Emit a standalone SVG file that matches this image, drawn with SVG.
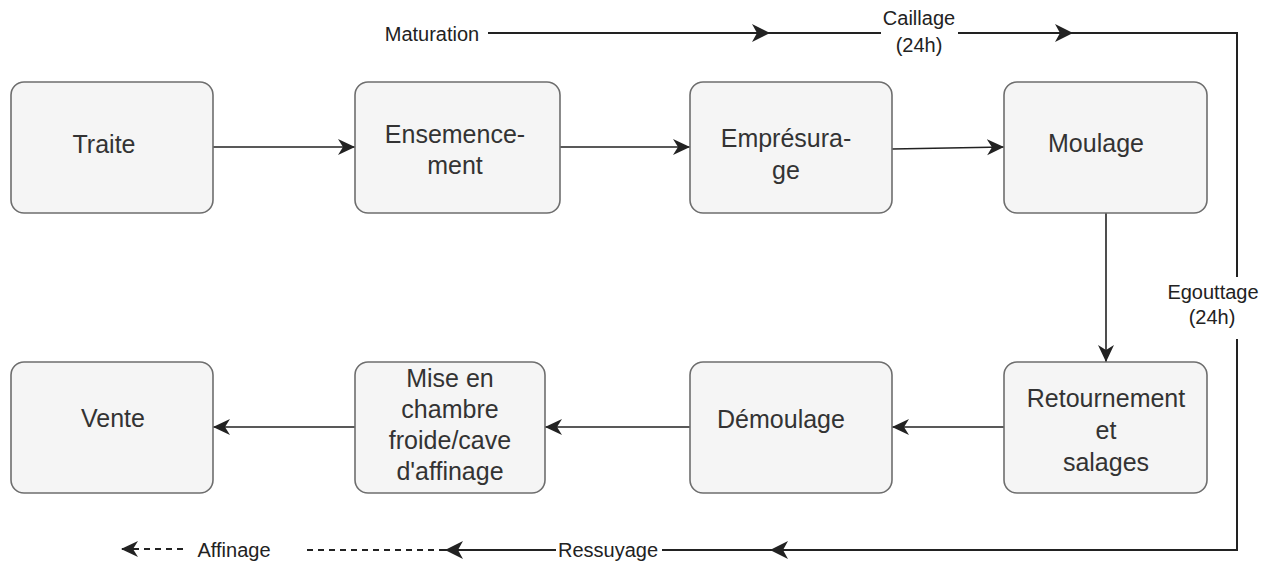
<svg xmlns="http://www.w3.org/2000/svg" width="1279" height="562" viewBox="0 0 1279 562">
<style>
.box{fill:#f5f5f5;stroke:#6e6e6e;stroke-width:1.6}
.lbl{font-family:"Liberation Sans",Arial,sans-serif;font-size:25px;fill:#333;text-anchor:middle}
.tl{font-family:"Liberation Sans",Arial,sans-serif;font-size:20px;fill:#222;text-anchor:middle}
.c{fill:none;stroke:#222;stroke-width:1.6}
.t{fill:none;stroke:#222;stroke-width:2}
.d{fill:none;stroke:#222;stroke-width:1.8;stroke-dasharray:6 5}
</style>
<defs>
<marker id="ah" markerUnits="userSpaceOnUse" markerWidth="18" markerHeight="18" refX="17" refY="8" orient="auto">
<path d="M0,0 L17,8 L0,16 L5,8 Z" fill="#222"/>
</marker>
<marker id="ahb" markerUnits="userSpaceOnUse" markerWidth="20" markerHeight="20" refX="18" refY="9" orient="auto">
<path d="M0,0 L18,9 L0,18 L5,9 Z" fill="#222"/>
</marker>
</defs>
<g id="connectors">
<line class="c" x1="213" y1="147" x2="355" y2="147" marker-end="url(#ah)"/>
<line class="c" x1="560" y1="147" x2="690" y2="147" marker-end="url(#ah)"/>
<line class="c" x1="892" y1="149" x2="1004" y2="147" marker-end="url(#ah)"/>
<line class="c" x1="1106" y1="213" x2="1106" y2="362" marker-end="url(#ah)"/>
<line class="c" x1="1004" y1="427" x2="892" y2="427" marker-end="url(#ah)"/>
<line class="c" x1="690" y1="427" x2="545" y2="427" marker-end="url(#ah)"/>
<line class="c" x1="355" y1="427" x2="213" y2="427" marker-end="url(#ah)"/>
<line class="t" x1="488" y1="33" x2="770" y2="33" marker-end="url(#ahb)"/>
<line class="t" x1="768" y1="33" x2="881" y2="33"/>
<line class="t" x1="958" y1="33" x2="1073" y2="33" marker-end="url(#ahb)"/>
<polyline class="t" points="1071,33 1237,33 1237,277"/>
<polyline class="t" points="1237,339 1237,550 770,550"/>
<line class="t" x1="1237" y1="550" x2="770" y2="550" marker-end="url(#ahb)"/>
<line class="t" x1="772" y1="550" x2="662" y2="550"/>
<line class="t" x1="556" y1="550" x2="445" y2="550" marker-end="url(#ahb)"/>
<line class="d" x1="445" y1="550" x2="305" y2="550"/>
<line class="d" x1="183" y1="549" x2="121" y2="549" marker-end="url(#ah)"/>
</g>
<g id="labels">
<text class="tl" x="432" y="41">Maturation</text>
<text class="tl" x="919" y="25">Caillage</text>
<text class="tl" x="919" y="52">(24h)</text>
<text class="tl" x="1213" y="299">Egouttage</text>
<text class="tl" x="1212" y="324">(24h)</text>
<text class="tl" x="608" y="557">Ressuyage</text>
<text class="tl" x="234" y="557">Affinage</text>
</g>
<g id="traite">
<rect class="box" x="11" y="82" width="202" height="131" rx="13"/>
<text class="lbl" x="104" y="153">Traite</text>
</g>
<g id="ensemencement">
<rect class="box" x="355" y="82" width="205" height="131" rx="13"/>
<text class="lbl" x="455" y="143">Ensemence-</text>
<text class="lbl" x="455" y="174">ment</text>
</g>
<g id="empresurage">
<rect class="box" x="690" y="82" width="202" height="131" rx="13"/>
<text class="lbl" x="786" y="147">Empr&#233;sura-</text>
<text class="lbl" x="786" y="179">ge</text>
</g>
<g id="moulage">
<rect class="box" x="1004" y="82" width="203" height="131" rx="13"/>
<text class="lbl" x="1096" y="152">Moulage</text>
</g>
<g id="vente">
<rect class="box" x="11" y="362" width="202" height="131" rx="13"/>
<text class="lbl" x="113" y="427">Vente</text>
</g>
<g id="mise">
<rect class="box" x="355" y="362" width="190" height="131" rx="13"/>
<text class="lbl" x="450" y="387">Mise en</text>
<text class="lbl" x="450" y="418">chambre</text>
<text class="lbl" x="450" y="449">froide/cave</text>
<text class="lbl" x="450" y="480">d'affinage</text>
</g>
<g id="demoulage">
<rect class="box" x="690" y="362" width="202" height="131" rx="13"/>
<text class="lbl" x="781" y="428">D&#233;moulage</text>
</g>
<g id="retournement">
<rect class="box" x="1004" y="362" width="203" height="131" rx="13"/>
<text class="lbl" x="1106" y="407">Retournement</text>
<text class="lbl" x="1106" y="439">et</text>
<text class="lbl" x="1106" y="471">salages</text>
</g>
</svg>
